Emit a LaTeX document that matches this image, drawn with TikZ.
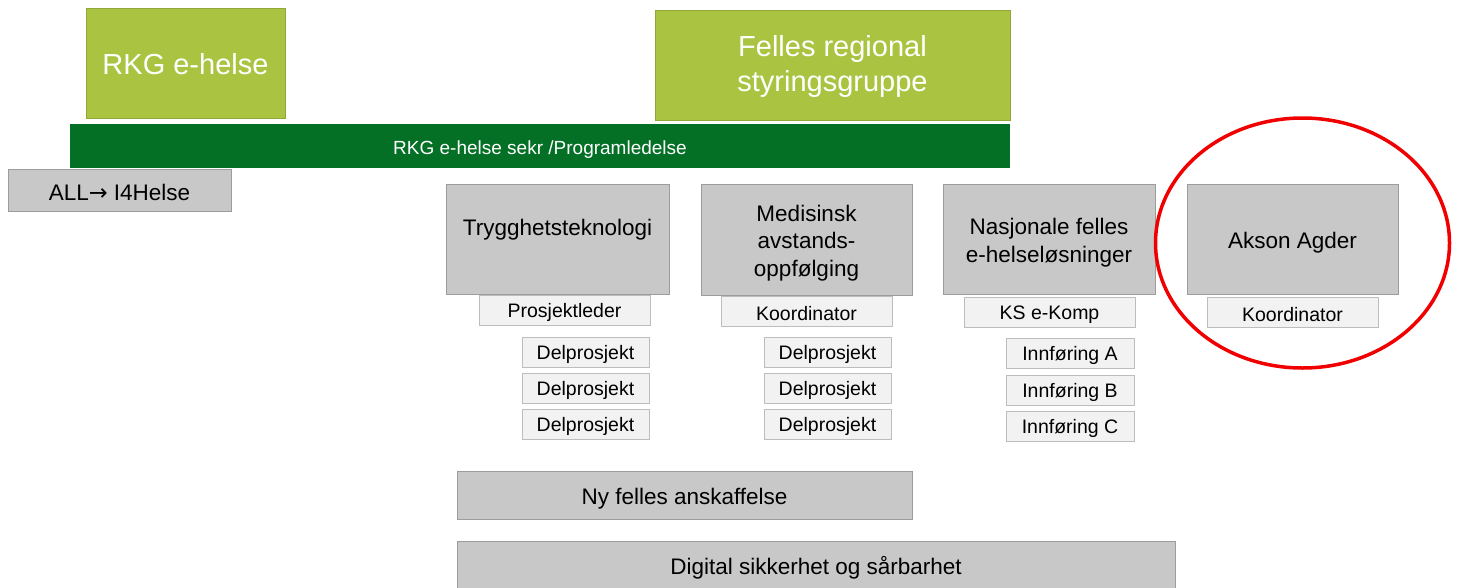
\documentclass[tikz,border=0pt]{standalone}
\usepackage{fontspec}
\setmainfont{Liberation Sans}
\newfontfamily\arrowfont{DejaVu Sans}
\usetikzlibrary{shapes.geometric}
\definecolor{lgreen}{HTML}{AAC441}
\definecolor{lgreenb}{HTML}{8FA838}
\definecolor{dgreen}{HTML}{037026}
\definecolor{gfill}{HTML}{C8C8C8}
\definecolor{gline}{HTML}{9C9C9C}
\definecolor{pfill}{HTML}{F2F2F2}
\definecolor{pline}{HTML}{BDBDBD}
\definecolor{ovalred}{HTML}{F00000}
\tikzset{
  greenbox/.style={draw=lgreenb, line width=1pt, fill=lgreen, text=white, align=center, inner sep=0pt, font=\fontsize{29}{35}\selectfont},
  barbox/.style={fill=dgreen, text=white, inner sep=0pt, font=\fontsize{19}{22}\selectfont, text height=20pt},
  graybox/.style={draw=gline, line width=1pt, fill=gfill, align=center, inner sep=0pt, font=\fontsize{22.5}{27.5}\selectfont},
  paleb/.style={draw=pline, line width=1pt, fill=pfill, inner sep=0pt, minimum height=30pt, font=\fontsize{19.5}{22}\selectfont, text height=19.2pt},
  oval/.style={ellipse, draw=ovalred, line width=3.5pt, inner sep=0pt}
}
\begin{document}
\begin{tikzpicture}[x=1pt, y=-1pt]
\useasboundingbox (0,0) rectangle (1459,587);
\fill[white] (0,0) rectangle (1459,587);
% top green boxes
\node[greenbox, minimum width=199pt, minimum height=110pt, text height=24pt] (rkg) at (185.5,63) {RKG e-helse};
\node[greenbox, minimum width=355pt, minimum height=110pt, text height=59pt] (frs) at (832.5,65) {Felles regional\\styringsgruppe};
% bar
\node[barbox, minimum width=940pt, minimum height=44pt] (bar) at (540,146) {RKG e-helse sekr /Programledelse};
% ALL -> I4Helse
\node[graybox, minimum width=223pt, minimum height=42pt, text height=21pt] (all) at (119.5,190) {ALL{\arrowfont→} I4Helse};
% main columns
\node[graybox, minimum width=223pt, minimum height=110pt, text height=23.4pt, text depth=31.4pt] (tt) at (557.5,239) {Trygghetsteknologi};
\node[graybox, minimum width=211pt, minimum height=111pt, text height=78.4pt] (med) at (806.5,239.5) {Medisinsk\\avstands-\\oppfølging};
\node[graybox, minimum width=212pt, minimum height=110pt, text height=50.9pt] (nas) at (1049,239) {Nasjonale felles\\e-helseløsninger};
\node[graybox, minimum width=211pt, minimum height=110pt, text height=23.4pt] (aks) at (1292.5,239) {Akson Agder};
% leads
\node[paleb, minimum width=171pt] (pl) at (564.5,310) {Prosjektleder};
\node[paleb, minimum width=171pt] (ko1) at (806.5,311) {Koordinator};
\node[paleb, minimum width=171pt] (ks) at (1049.5,312) {KS e-Komp};
\node[paleb, minimum width=171pt] (ko2) at (1292.5,312) {Koordinator};
% subprojects
\node[paleb, minimum width=127pt] (d1) at (585.5,352) {Delprosjekt};
\node[paleb, minimum width=127pt] (d2) at (585.5,388) {Delprosjekt};
\node[paleb, minimum width=127pt] (d3) at (585.5,424) {Delprosjekt};
\node[paleb, minimum width=127pt] (d4) at (827.5,352) {Delprosjekt};
\node[paleb, minimum width=127pt] (d5) at (827.5,388) {Delprosjekt};
\node[paleb, minimum width=127pt] (d6) at (827.5,424) {Delprosjekt};
\node[paleb, minimum width=128pt] (ia) at (1070,353) {Innføring A};
\node[paleb, minimum width=128pt] (ib) at (1070,390) {Innføring B};
\node[paleb, minimum width=128pt] (ic) at (1070,426) {Innføring C};
% bottom bars
\node[graybox, minimum width=455pt, minimum height=48pt, text height=23.4pt] (ny) at (684.5,495) {Ny felles anskaffelse};
\node[graybox, minimum width=718pt, minimum height=48pt, text height=23.4pt] (dig) at (816,565) {Digital sikkerhet og sårbarhet};
% red ellipse
\node[oval, minimum width=294pt, minimum height=250pt] (ring) at (1302.5,243) {};
\end{tikzpicture}
\end{document}
